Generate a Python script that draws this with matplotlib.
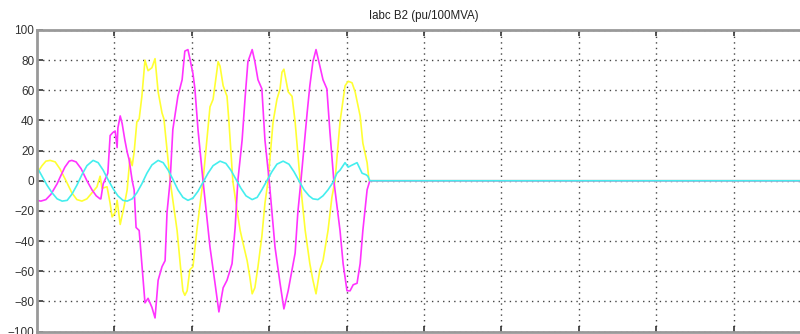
import matplotlib
matplotlib.use("Agg")
import matplotlib.pyplot as plt

# time in ms, current in pu
t_a = [0, 1.3, 2.3, 3.4, 4.7, 5.9, 7.5, 9.0, 10.3, 11.6, 12.9, 14.2, 15.5, 16.3, 16.8,
       18.1, 18.9, 19.4, 20.2, 20.7, 21.5, 22.5, 23.3, 24.0, 24.6, 25.1, 25.8, 26.4,
       27.1, 27.9, 28.7, 29.7, 30.5, 31.3, 32.3, 32.8, 34.4, 36.2, 37.0, 37.7, 38.2,
       38.8, 39.5, 40.3, 41.3, 42.9, 44.7, 45.5, 46.8, 47.3, 48.1, 49.1, 49.6, 50.6,
       51.7, 52.5, 53.2, 54.3, 55.0, 55.6, 56.3, 57.1, 58.1, 58.9, 59.7, 61.0, 62.0,
       62.8, 63.3, 63.8, 64.9, 65.9, 66.7, 68.0, 69.3, 70.5, 71.3, 72.1, 73.1, 73.9,
       75.2, 76.2, 77.0, 78.3, 79.6, 80.4, 81.4, 82.2, 83.5, 84.2, 85.3, 85.8, 200]
ia = [5, 10, 13, 13.5, 12.5, 8, 0, -8, -12.5, -13.5, -12, -8, -4, 3, -5,
      -4, -15, -24, -21, -13, -29, -17, -6, 15, 10, 19, 39, 41,
      56, 80, 73, 75, 81, 59, 45, 41, 0, -33, -55, -73, -76,
      -73, -59, -57, -33, 0, 49, 54, 79, 76, 63, 56, 39, 0,
      -20, -33, -41, -53, -64, -75, -71, -57, -37, -15, 0, 39, 54,
      61, 72, 74, 59, 56, 39, 0, -33, -55, -66, -75, -59, -53,
      -33, -11, 0, 39, 63, 66, 65, 59, 43, 25, 12, 0, 0]

t_b = [0, 1.0, 2.3, 3.6, 5.2, 5.9, 7.2, 8.3, 9.0, 10.1, 11.4, 12.9, 14.2, 15.3, 16.3,
       16.5, 17.1, 17.8, 18.3, 18.9, 19.6, 20.2, 20.7, 20.9, 21.5, 22.0, 22.7, 23.3,
       23.8, 24.6, 25.1, 25.6, 26.4, 27.9, 28.7, 29.7, 30.5, 31.3, 32.3, 33.1, 33.6,
       34.4, 35.1, 36.4, 37.5, 38.2, 39.0, 39.5, 40.3, 40.8, 41.6, 42.9, 44.7, 46.0,
       47.0, 48.1, 49.1, 50.4, 51.2, 51.9, 53.0, 53.8, 54.5, 55.6, 56.3, 57.1, 58.1,
       58.9, 60.0, 61.5, 62.8, 63.8, 64.9, 65.4, 66.7, 67.4, 68.2, 69.8, 70.5, 71.3,
       72.1, 73.1, 73.9, 74.9, 75.7, 76.7, 78.3, 79.1, 80.1, 80.9, 81.7, 82.7, 83.5,
       84.2, 85.3, 86.0, 200]
ib = [-13, -13.5, -12.5, -9, -2, 2, 9, 13, 13.5, 12.5, 8, 0, -6, -10, -12,
      -12, -2, 2, 5, 30, 32, 33, 22, 35, 43, 38, 27, 19,
      14, 0, -6, -31, -33, -81, -78, -84, -91, -66, -57, -53, -21,
      0, 34, 56, 67, 86, 87, 81, 71, 61, 34, 0, -44, -68,
      -87, -71, -66, -55, -31, 0, 27, 56, 79, 87, 79, 67, 61,
      27, 0, -44, -68, -85, -73, -66, -48, -21, 0, 45, 63, 79,
      87, 76, 67, 61, 32, 0, -33, -55, -73, -73, -69, -68, -55,
      -33, -6, 0, 0]

t_c = [0, 1.3, 2.6, 3.9, 5.2, 6.5, 7.8, 9.0, 10.3, 11.6, 12.9, 14.5, 15.8, 17.1,
       18.3, 19.6, 20.9, 22.2, 23.3, 24.6, 25.8, 27.1, 28.4, 29.7, 31.3, 32.6, 33.9,
       35.1, 36.4, 37.7, 39.0, 40.3, 41.6, 42.9, 44.2, 45.5, 47.3, 48.8, 50.1, 51.4,
       52.7, 54.0, 55.6, 56.9, 58.1, 59.4, 60.7, 62.0, 63.6, 65.1, 66.4, 67.7, 69.0,
       70.3, 71.3, 72.6, 73.9, 75.2, 76.5, 77.5, 78.3, 79.6, 80.4, 81.1, 81.9, 82.7,
       84.0, 85.0, 85.5, 86.0, 200]
ic = [9, 3, -3, -8, -12, -13.5, -13, -9, -3, 4, 10, 13.5, 12, 7,
      1, -5, -10, -13, -13.5, -12, -8, -2, 5, 10.5, 13.5, 12, 7,
      1, -6, -11, -13, -11.5, -7, -1, 5, 10, 13, 11.5, 7, 1,
      -5, -10, -12.5, -11, -6, 0, 6, 11, 13, 11, 6, 0, -6,
      -10, -12, -12.5, -10, -6, -1, 5, 7, 12, 9, 10, 11, 12,
      5, 4, 3, 0, 0]

y_ticks = [-100, -80, -60, -40, -20, 0, 20, 40, 60, 80, 100]
x_ticks = [20, 40, 60, 80, 100, 120, 140, 160, 180]

plt.rcParams['font.family'] = ['Liberation Sans', 'DejaVu Sans']

fig = plt.figure(figsize=(8, 3.34), dpi=100)
ax = fig.add_axes([37 / 800, 2.5 / 334, 774 / 800, 301.5 / 334])

ax.plot(t_a, ia, color='#ffff33', lw=1.2)
ax.plot(t_b, ib, color='#ff33ff', lw=1.2)
ax.plot(t_c, ic, color='#44eeee', lw=1.2)

ax.set_xlim(0, 200)
ax.set_ylim(-100, 100)
ax.set_xticks(x_ticks)
ax.set_yticks(y_ticks)
ax.tick_params(axis='both', direction='in', length=4, width=1.2, color='#333333',
               labelsize=8.5, labelcolor='#333333', pad=2, top=True)
ax.tick_params(axis='x', labelbottom=False)
ax.grid(True, color='#444444', linestyle=(0, (1, 3)), linewidth=1.0)

for side in ['left', 'bottom', 'top']:
    ax.spines[side].set_color('#999999')
    ax.spines[side].set_linewidth(2)
ax.spines['right'].set_visible(False)

ax.set_title('Iabc B2 (pu/100MVA)', fontsize=8.3, color='#222222', pad=8)

fig.savefig('out.png', dpi=100)
